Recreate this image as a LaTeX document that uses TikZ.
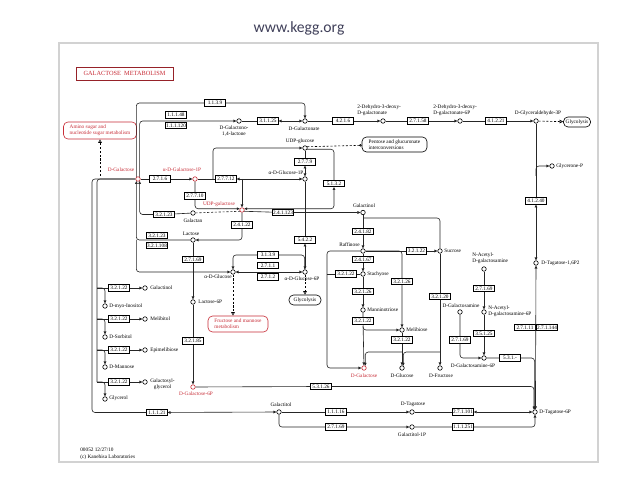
\documentclass[tikz,border=0pt]{standalone}
\usepackage{fontspec}
\setmainfont{Liberation Serif}
\newfontfamily\urlfont{Carlito}
\usetikzlibrary{arrows.meta}
\definecolor{keggred}{RGB}{200,45,55}
\definecolor{urlgray}{RGB}{64,64,90}
\tikzstyle{ecbox} = [draw, rectangle, fill=white, inner xsep=0.3pt, inner ysep=0pt, minimum width=4.1mm, minimum height=1.3mm, font=\fontsize{3}{3}\selectfont, line width=0.3pt]
\tikzstyle{cpd} = [draw, circle, fill=white, inner sep=0pt, minimum size=0.9mm, line width=0.35pt]
\tikzstyle{redcpd} = [cpd, draw=keggred]
\tikzstyle{lbl} = [font=\fontsize{3}{3.5}\selectfont, inner sep=0pt, align=center]
\tikzstyle{redlbl} = [lbl, text=keggred]
\tikzstyle{mapbox} = [draw, rounded corners=0.9mm, fill=white, font=\fontsize{3}{3.5}\selectfont, align=left, inner sep=1pt, line width=0.35pt]
\tikzstyle{redmap} = [mapbox, draw=keggred, text=keggred]
\tikzstyle{conn} = [line width=0.35pt, rounded corners=0.6mm, draw=black!85]
\tikzstyle{arrow} = [conn, ->, >={Triangle[length=1.7pt,width=1.5pt]}]
\tikzstyle{twoway} = [conn, <->, >={Triangle[length=1.7pt,width=1.5pt]}]
\tikzstyle{maplink} = [line width=0.35pt, dash pattern=on 1.2pt off 1pt, -{Triangle[open,length=2pt,width=2pt]}]
\begin{document}
\begin{tikzpicture}[x=0.2mm, y=-0.2mm]
\useasboundingbox (0,0) rectangle (640,480);
\fill[white] (0,0) rectangle (640,480);
\draw[gray!35, line width=0.25mm] (59,43) rectangle (598,462);
\node (url) [font=\urlfont\fontsize{8.9}{10}\selectfont, text=urlgray] at (299,28) {www.kegg.org};

% title and maps
\node (title) [draw=keggred!75!black, line width=0.5pt, minimum width=19.4mm, minimum height=2.6mm, text=keggred, font=\fontsize{3.6}{4}\selectfont, inner sep=0pt] at (124.5,73.5) {GALACTOSE\ \ METABOLISM};
\node (amino) [redmap, minimum width=14.6mm, minimum height=3.4mm] at (100,130.5) {Amino sugar and\\nucleotide sugar metabolism};
\node (pentose) [mapbox, minimum width=13mm, minimum height=3mm] at (394.5,144.5) {Pentose and glucuronate\\interconversions};
\node (glyca) [mapbox, minimum width=5.4mm, minimum height=2mm] at (577,122) {Glycolysis};
\node (glycb) [mapbox, minimum width=6.4mm, minimum height=2mm] at (305,300) {Glycolysis};
\node (frumet) [redmap, minimum width=12mm, minimum height=3.2mm] at (238,324) {Fructose and mannose\\metabolism};

% compounds
\node (dgal) [redcpd] at (138,179) {};
\node (agal1p) [redcpd] at (195,179) {};
\node (lactone) [cpd] at (239,121) {};
\node (dgalonate) [cpd] at (305,121) {};
\node (ddg) [cpd] at (383,121) {};
\node (ddg6p) [cpd] at (460,121) {};
\node (gap) [cpd] at (536,121) {};
\node (udpglc) [cpd] at (305,148) {};
\node (aglc1p) [cpd] at (305,179) {};
\node (udpgal) [redcpd] at (242,210) {};
\node (galactan) [cpd] at (193,213) {};
\node (lactose) [cpd] at (193,240) {};
\node (aglc) [cpd] at (233,272) {};
\node (aglc6p) [cpd] at (305,272) {};
\node (lac6p) [cpd] at (193,302) {};
\node (dgal6p) [redcpd] at (193,387) {};
\node (galactitol) [cpd] at (279,412) {};
\node (dtag) [cpd] at (412,412) {};
\node (galtol1p) [cpd] at (412,427) {};
\node (dtag6p) [cpd] at (535,412) {};
\node (dtag16p2) [cpd] at (536,263) {};
\node (glycp) [cpd] at (552,166) {};
\node (galactinol) [cpd] at (363,212.5) {};
\node (raffinose) [cpd] at (363,251) {};
\node (sucrose) [cpd] at (440,251) {};
\node (stachyose) [cpd] at (363,274) {};
\node (mannino) [cpd] at (363,310) {};
\node (melibiose) [cpd] at (402,330) {};
\node (dgalb) [redcpd] at (364,368) {};
\node (dglc) [cpd] at (402,368) {};
\node (dfru) [cpd] at (440,368) {};
\node (nacgal) [cpd] at (484,269) {};
\node (nacgal6p) [cpd] at (484,312) {};
\node (galn) [cpd] at (460,312) {};
\node (galn6p) [cpd] at (484,358) {};
\node (galinolb) [cpd] at (145,288) {};
\node (melibitol) [cpd] at (145,319) {};
\node (epimel) [cpd] at (145,350) {};
\node (galglyc) [cpd] at (145,382) {};
\node (myoino) [cpd] at (105,306) {};
\node (sorbitol) [cpd] at (105,337) {};
\node (mannose) [cpd] at (105,367) {};
\node (glycerol) [cpd] at (105,399) {};

% compound names
\node (dgalL) [redlbl] at (121,170) {D-Galactose};
\node (agal1pL) [redlbl] at (182,170) {α-D-Galactose-1P};
\node (lactoneL) [lbl] at (234,131.5) {D-Galactono-\\1,4-lactone};
\node (dgalonateL) [lbl] at (304,129) {D-Galactonate};
\node (ddgL) [lbl, anchor=west, align=left] at (357,110.5) {2-Dehydro-3-deoxy-\\D-galactonate};
\node (ddg6pL) [lbl, anchor=west, align=left] at (433,110.5) {2-Dehydro-3-deoxy-\\D-galactonate-6P};
\node (gapL) [lbl] at (538,113) {D-Glyceraldehyde-3P};
\node (udpglcL) [lbl] at (300,141) {UDP-glucose};
\node (aglc1pL) [lbl] at (286,173) {α-D-Glucose-1P};
\node (udpgalL) [redlbl] at (219,204) {UDP-galactose};
\node (galactanL) [lbl] at (193,221) {Galactan};
\node (lactoseL) [lbl] at (191,234) {Lactose};
\node (aglcL) [lbl] at (218,276.5) {α-D-Glucose};
\node (aglc6pL) [lbl] at (302,278.5) {α-D-Glucose-6P};
\node (lac6pL) [lbl, anchor=west] at (198,302) {Lactose-6P};
\node (dgal6pL) [redlbl] at (196,393.5) {D-Galactose-6P};
\node (galactitolL) [lbl] at (281,405) {Galactitol};
\node (dtagL) [lbl] at (413,404.5) {D-Tagatose};
\node (galtol1pL) [lbl] at (412,434.5) {Galactitol-1P};
\node (dtag6pL) [lbl, anchor=west] at (539,412) {D-Tagatose-6P};
\node (dtag16p2L) [lbl, anchor=west] at (541,263) {D-Tagatose-1,6P2};
\node (glycpL) [lbl, anchor=west] at (556,166) {Glycerone-P};
\node (galactinolL) [lbl] at (364,206) {Galactinol};
\node (raffinoseL) [lbl, anchor=east] at (360,245) {Raffinose};
\node (sucroseL) [lbl, anchor=west] at (444,251) {Sucrose};
\node (stachyoseL) [lbl, anchor=west] at (367,274) {Stachyose};
\node (manninoL) [lbl, anchor=west] at (367,310) {Manninotriose};
\node (melibioseL) [lbl, anchor=west] at (406,330) {Melibiose};
\node (dgalbL) [redlbl] at (364,376) {D-Galactose};
\node (dglcL) [lbl] at (402,376) {D-Glucose};
\node (dfruL) [lbl] at (441,376) {D-Fructose};
\node (nacgalL) [lbl, anchor=west, align=left] at (472,258.5) {N-Acetyl-\\D-galactosamine};
\node (nacgal6pL) [lbl, anchor=west, align=left] at (488,311.5) {N-Acetyl-\\D-galactosamine-6P};
\node (galnL) [lbl] at (461,306) {D-Galactosamine};
\node (galn6pL) [lbl] at (473,366) {D-Galactosamine-6P};
\node (galinolbL) [lbl, anchor=west] at (150,288) {Galactinol};
\node (melibitolL) [lbl, anchor=west] at (150,319) {Melibitol};
\node (epimelL) [lbl, anchor=west] at (150,350) {Epimelibiose};
\node (galglycL) [lbl, anchor=west] at (150,384.5) {Galactosyl-\\glycerol};
\node (myoinoL) [lbl, anchor=west] at (109,306) {D-myo-Inositol};
\node (sorbitolL) [lbl, anchor=west] at (109,336.5) {D-Sorbitol};
\node (mannoseL) [lbl, anchor=west] at (109,367) {D-Mannose};
\node (glycerolL) [lbl, anchor=west] at (109,398.5) {Glycerol};
\node (mapno) [lbl, anchor=west] at (80,450) {00052 12/27/10};
\node (copy) [lbl, anchor=west] at (80,457) {(c) Kanehisa Laboratories};

% enzymes
\node (e1139) [ecbox] at (215,103) {1.1.3.9};
\node (e11148) [ecbox] at (176,115) {1.1.1.48};
\node (e111120) [ecbox] at (176,125.5) {1.1.1.120};
\node (e31125) [ecbox] at (268,121) {3.1.1.25};
\node (e4216) [ecbox] at (343,121) {4.2.1.6};
\node (e27158) [ecbox] at (418,121) {2.7.1.58};
\node (e41221) [ecbox] at (496,121) {4.1.2.21};
\node (e2716) [ecbox] at (160,179) {2.7.1.6};
\node (e27712) [ecbox] at (226,179) {2.7.7.12};
\node (e2779) [ecbox] at (305,162) {2.7.7.9};
\node (e5132) [ecbox] at (334,183.5) {5.1.3.2};
\node (e27710) [ecbox] at (195,196) {2.7.7.10};
\node (e32123a) [ecbox] at (164,214.5) {3.2.1.23};
\node (e24122) [ecbox] at (242,225) {2.4.1.22};
\node (e241123) [ecbox] at (283,212.5) {2.4.1.123};
\node (e32123b) [ecbox] at (157,235.5) {3.2.1.23};
\node (e321108) [ecbox] at (157,245.5) {3.2.1.108};
\node (e5422) [ecbox] at (305,240) {5.4.2.2};
\node (e27169a) [ecbox] at (193,259.5) {2.7.1.69};
\node (e3139) [ecbox] at (268,255) {3.1.3.9};
\node (e2711) [ecbox] at (268,265.5) {2.7.1.1};
\node (e2712) [ecbox] at (268,277) {2.7.1.2};
\node (e32185) [ecbox] at (193,341) {3.2.1.85};
\node (e53126) [ecbox] at (321,386.5) {5.3.1.26};
\node (e11121) [ecbox] at (157,412.5) {1.1.1.21};
\node (e11116) [ecbox] at (336,412) {1.1.1.16};
\node (e27169c) [ecbox] at (336,427) {2.7.1.69};
\node (e271101) [ecbox] at (463,412) {2.7.1.101};
\node (e111251) [ecbox] at (463,427) {1.1.1.251};
\node (e24182) [ecbox] at (363,231.5) {2.4.1.82};
\node (e32122r) [ecbox] at (416.5,251) {3.2.1.22};
\node (e24167) [ecbox] at (363,259.5) {2.4.1.67};
\node (e32122s) [ecbox] at (346,274) {3.2.1.22};
\node (e32126a) [ecbox] at (402,281.5) {3.2.1.26};
\node (e32126b) [ecbox] at (363,291.5) {3.2.1.26};
\node (e32120) [ecbox] at (440,296.5) {3.2.1.20};
\node (e32122m) [ecbox] at (363,321) {3.2.1.22};
\node (e32122mb) [ecbox] at (402,340) {3.2.1.22};
\node (e41240) [ecbox] at (536,201) {4.1.2.40};
\node (e27169b) [ecbox] at (484,288.5) {2.7.1.69};
\node (e35125) [ecbox] at (484,333.5) {3.5.1.25};
\node (e27169d) [ecbox] at (460,340) {2.7.1.69};
\node (e531) [ecbox] at (510,358) {5.3.1.-};
\node (e27111) [ecbox] at (525,327.5) {2.7.1.11};
\node (e271144) [ecbox] at (547,327.5) {2.7.1.144};
\foreach \y [count=\i] in {288,319,350,382}
  \node (hyd\i) [ecbox] at (119,\y) {3.2.1.22};

% joints
\coordinate (j1) at (213,179);
\coordinate (j2) at (242,179);
\coordinate (j4) at (dgal.-130 |- lactose);
\coordinate (j6) at (92,412.5);
\coordinate (j7) at (363,218);
\coordinate (j9) at (327,274);
\coordinate (j10) at (363,326.5);
\coordinate (j11) at (402,352);
\coordinate (j12) at (440,352);
\coordinate (jl) at (327,368);
\coordinate (gpj) at (536,176);
\coordinate (aminoend) at (100,176);
\coordinate (r1) at (97,288);
\coordinate (r2) at (97,319);
\coordinate (r3) at (97,350);
\coordinate (r4) at (97,382);

% reactions
\draw [arrow] (dgal.130) |- (e1139) -| (dgalonate);
\draw [arrow] (dgal.50) |- (lactone);
\draw [twoway] (lactone) -- (e31125) -- (dgalonate);
\draw [arrow] (dgalonate) -- (e4216) -- (ddg);
\draw [arrow] (ddg) -- (e27158) -- (ddg6p);
\draw [arrow] (ddg6p) -- (e41221) -- (gap);
\draw [maplink] (gap) -- (glyca);
\draw [twoway] (gap) -- (e41240) -- (dtag16p2);
\draw [arrow] (gpj) |- (glycp);
\draw [twoway] (dtag16p2) -- (dtag6p.80);

\draw [arrow] (dgal) -- (e2716) -- (agal1p);
\draw [twoway] (agal1p) -- (e27712) -- (aglc1p);
\draw [arrow] (j1) |- (udpglc);
\draw [arrow] (j2) -- (udpgal);
\draw [twoway] (udpglc) -- (e2779) -- (aglc1p);
\draw [line width=0.35pt, dash pattern=on 1.2pt off 1pt, -{Circle[open,length=1.4pt]}] (udpglc.30) -- (pentose);
\draw [twoway] (udpglc.-30) -| (e5132) |- (udpgal.30);
\draw [arrow] (agal1p) -- (e27710) |- (udpgal.150);
\draw [conn, dash pattern=on 1.2pt off 1pt] (galactan) -- (udpgal.-150);
\draw [arrow] (udpgal.-30) -- (e241123) -- (galactinol);
\draw [arrow] (udpgal) -- (e24122) |- (lactose);
\draw [arrow] (e32123a) -| (dgal.-50);
\draw [conn] (e32123a) -- (galactan);
\draw [arrow] (lactose) -| (dgal.-130);
\draw [arrow] (j4) |- (aglc);
\draw [maplink] (aminoend) -- (amino);

\draw [arrow] (lactose) -- (e27169a) -- (lac6p);
\draw [arrow] (lac6p) -- (e32185) -- (dgal6p);
\draw [arrow] (dgal6p) -- (e53126) -| (dtag6p.115);
\draw [twoway] (aglc1p) -- (e5422) -- (aglc6p);
\draw [arrow] (aglc6p.100) |- (e3139) -| (aglc);
\draw [twoway] (aglc) -- (aglc6p);
\draw [maplink] (aglc6p) -- (glycb);
\draw [maplink] (aglc) -- (frumet.north -| aglc);

\draw [twoway] (dgal) -| (j6) -- (e11121) -- (galactitol);
\draw [conn] (dgal) -| (r4);
\foreach \p/\s [count=\i] in {galinolb/myoino, melibitol/sorbitol, epimel/mannose, galglyc/glycerol} {
  \draw [arrow] (r\i) -- (hyd\i) -- (\p);
  \draw [arrow] (r\i) -| (\s);
}

\draw [arrow] (galactitol) -- (e11116) -- (dtag);
\draw [arrow] (galactitol) |- (e27169c) -- (galtol1p);
\draw [twoway] (dtag) -- (e271101) -- (dtag6p);
\draw [arrow] (galtol1p) -- (e111251) -| (dtag6p);

\draw [arrow] (galactinol) -- (e24182) -- (raffinose);
\draw [conn] (j7) -| (sucrose);
\draw [arrow] (raffinose) -- (e32122r) -- (sucrose);
\draw [arrow] (sucrose) -- (e32120) -- (dfru);
\draw [arrow] (raffinose) -| (jl) -- (dgalb);
\draw [arrow] (raffinose) -| (e32126a) -- (melibiose);
\draw [arrow] (raffinose) -- (e24167) -- (stachyose);
\draw [conn] (stachyose) -- (e32122s) -- (j9);
\draw [arrow] (stachyose) -- (e32126b) -- (mannino);
\draw [arrow] (mannino) -- (e32122m) -- (dgalb);
\draw [arrow] (j10) |- (melibiose);
\draw [arrow] (melibiose) -- (e32122mb) -- (dglc);
\draw [arrow] (j11) -| (dgalb.60);
\draw [arrow] (j12) -| (dglc.60);

\draw [arrow] (nacgal) -- (e27169b) -- (nacgal6p);
\draw [arrow] (nacgal6p) -- (e35125) -- (galn6p);
\draw [arrow] (galn) -- (e27169d) |- (galn6p);
\draw [arrow] (galn6p) -- (e531) -| (dtag6p.100);
\end{tikzpicture}
\end{document}
